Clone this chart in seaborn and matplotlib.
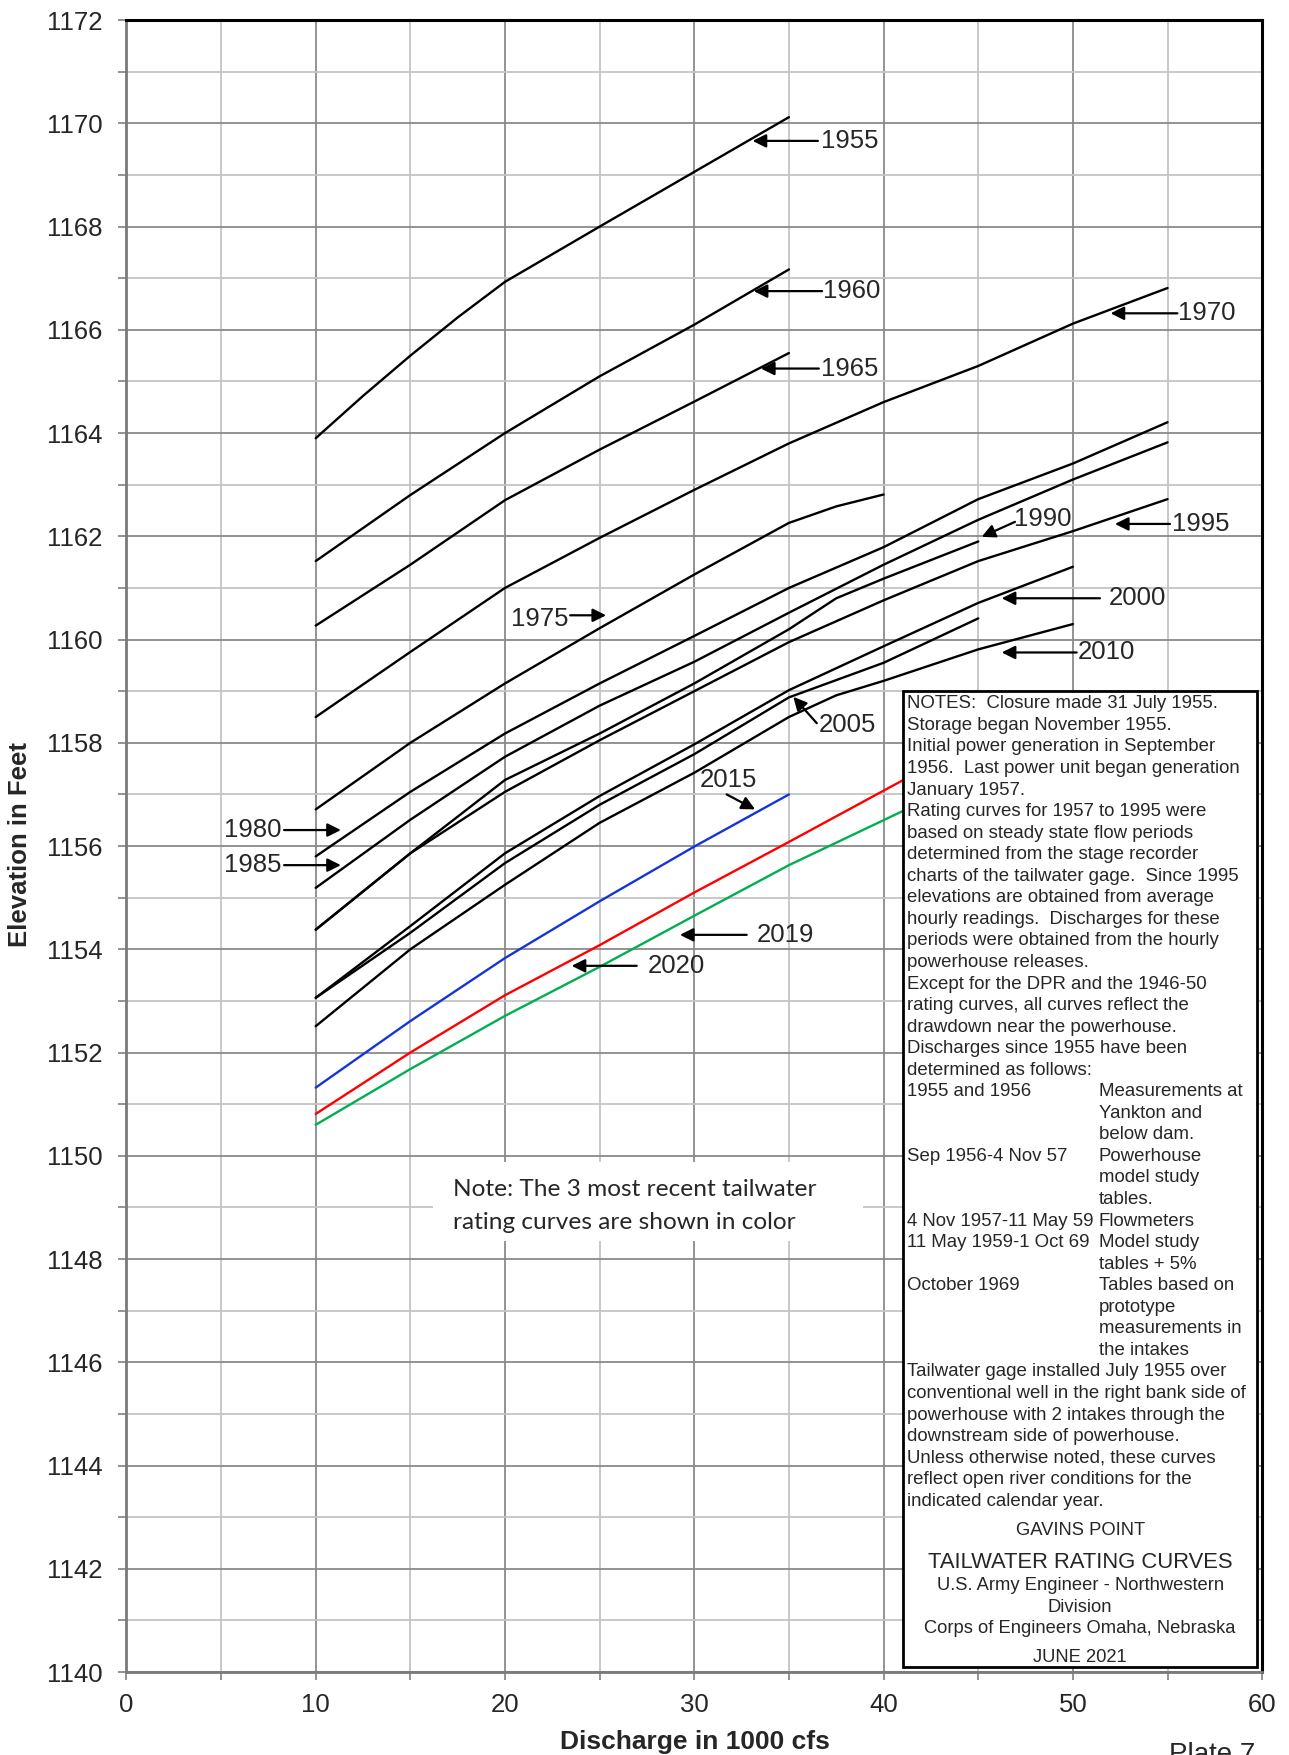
import numpy as np
import pandas as pd
import matplotlib
matplotlib.use("Agg")
import matplotlib.pyplot as plt
import seaborn as sns
from matplotlib.patches import Rectangle

# Tailwater rating curves: discharge (1000 cfs) vs. elevation (ft) per year
x_1955 = [10, 12.5, 15, 17.5, 20, 25, 30, 35]
y_1955 = [1163.9, 1164.72, 1165.5, 1166.24, 1166.93, 1168.0, 1169.06, 1170.12]

x_1960 = [10, 15, 20, 25, 30, 35]
y_1960 = [1161.52, 1162.8, 1164.0, 1165.1, 1166.1, 1167.17]

x_1965 = [10, 15, 20, 25, 30, 35]
y_1965 = [1160.27, 1161.45, 1162.7, 1163.68, 1164.61, 1165.55]

x_1970 = [10, 15, 20, 25, 30, 35, 40, 45, 50, 55]
y_1970 = [1158.5, 1159.76, 1161.0, 1161.97, 1162.9, 1163.8, 1164.6, 1165.3, 1166.12, 1166.81]

x_1975 = [10, 15, 20, 25, 30, 35, 37.5, 40]
y_1975 = [1156.71, 1158.0, 1159.15, 1160.22, 1161.26, 1162.26, 1162.58, 1162.81]

x_1980 = [10, 15, 20, 25, 30, 35, 40, 45, 50, 55]
y_1980 = [1155.8, 1157.05, 1158.18, 1159.15, 1160.07, 1161.0, 1161.79, 1162.72, 1163.41, 1164.21]

x_1985 = [10, 15, 20, 25, 30, 35, 40, 45, 50, 55]
y_1985 = [1155.19, 1156.51, 1157.73, 1158.72, 1159.57, 1160.52, 1161.45, 1162.32, 1163.1, 1163.82]

x_1990 = [10, 15, 20, 25, 30, 35, 37.5, 40, 45]
y_1990 = [1154.38, 1155.86, 1157.28, 1158.18, 1159.15, 1160.2, 1160.8, 1161.18, 1161.9]

x_1995 = [10, 15, 20, 25, 30, 35, 40, 45, 50, 55]
y_1995 = [1154.38, 1155.86, 1157.05, 1158.05, 1159.0, 1159.95, 1160.76, 1161.52, 1162.1, 1162.72]

x_2000 = [10, 15, 20, 25, 30, 35, 40, 45, 50]
y_2000 = [1153.06, 1154.45, 1155.86, 1156.97, 1157.97, 1159.02, 1159.87, 1160.71, 1161.41]

x_2005 = [10, 15, 20, 25, 30, 35, 40, 45]
y_2005 = [1153.06, 1154.32, 1155.67, 1156.8, 1157.78, 1158.88, 1159.55, 1160.41]

x_2010 = [10, 15, 20, 25, 30, 35, 37.5, 40, 45, 50]
y_2010 = [1152.51, 1154.0, 1155.25, 1156.45, 1157.42, 1158.5, 1158.92, 1159.2, 1159.81, 1160.3]

x_2015 = [10, 15, 20, 25, 30, 35]
y_2015 = [1151.32, 1152.61, 1153.83, 1154.93, 1155.99, 1157.0]

x_2019 = [10, 15, 20, 25, 30, 35, 42]
y_2019 = [1150.6, 1151.68, 1152.71, 1153.66, 1154.65, 1155.63, 1156.85]

x_2020 = [10, 15, 20, 25, 30, 35, 42]
y_2020 = [1150.81, 1152.0, 1153.11, 1154.08, 1155.1, 1156.08, 1157.47]

years = ["1955", "1960", "1965", "1970", "1975", "1980", "1985", "1990",
         "1995", "2000", "2005", "2010", "2015", "2019", "2020"]
series = {
    "1955": (x_1955, y_1955), "1960": (x_1960, y_1960), "1965": (x_1965, y_1965),
    "1970": (x_1970, y_1970), "1975": (x_1975, y_1975), "1980": (x_1980, y_1980),
    "1985": (x_1985, y_1985), "1990": (x_1990, y_1990), "1995": (x_1995, y_1995),
    "2000": (x_2000, y_2000), "2005": (x_2005, y_2005), "2010": (x_2010, y_2010),
    "2015": (x_2015, y_2015), "2019": (x_2019, y_2019), "2020": (x_2020, y_2020),
}

x_ticks = [0, 10, 20, 30, 40, 50, 60]
y_ticks = list(range(1140, 1173, 2))

rows = []
for yr in years:
    xs, ys = series[yr]
    for xv, yv in zip(xs, ys):
        rows.append({"year": yr, "discharge": xv, "elevation": yv})
df = pd.DataFrame(rows)

palette = {yr: "black" for yr in years}
palette["2015"] = "#1535d8"
palette["2019"] = "#00b050"
palette["2020"] = "#ff0000"

sns.set_style("white")
plt.rcParams["font.family"] = ["Liberation Sans", "DejaVu Sans"]

fig = plt.figure(figsize=(12.89, 17.55), dpi=100)
ax = fig.add_axes([126.4 / 1289, 1 - 1672 / 1755, (1262.2 - 126.4) / 1289, (1672 - 20.1) / 1755])

sns.lineplot(data=df, x="discharge", y="elevation", hue="year", palette=palette,
             estimator=None, sort=False, legend=False, linewidth=1.7, ax=ax, zorder=2)

ax.set_xlim(0, 60)
ax.set_ylim(1140, 1172)
ax.set_xticks(x_ticks)
ax.set_yticks(y_ticks)
ax.set_xticks(np.arange(5, 60, 10), minor=True)
ax.set_yticks(np.arange(1141, 1172, 2), minor=True)
ax.set_axisbelow(True)
ax.grid(which="major", color="#8a8a8a", linewidth=1.3)
ax.grid(which="minor", color="#c4c4c4", linewidth=1.3)
ax.tick_params(which="both", direction="out", length=6, width=1.3, color="#8a8a8a",
               left=True, bottom=True)
ax.tick_params(axis="y", labelsize=18.5, pad=11)
ax.tick_params(axis="x", labelsize=18.5, pad=9)
ax.set_xlabel("")
ax.set_ylabel("")
for side in ("left", "bottom"):
    ax.spines[side].set_color("#7a7a7a")
    ax.spines[side].set_linewidth(2)
for side in ("top", "right"):
    ax.spines[side].set_color("black")
    ax.spines[side].set_linewidth(2.2)

fig.text(695 / 1289, 1 - 1742 / 1755, "Discharge in 1000 cfs", ha="center", va="center",
         fontsize=19, fontweight="bold")
fig.text(20 / 1289, 1 - 845 / 1755, "Elevation in Feet", ha="center", va="center",
         rotation=90, fontsize=18.5, fontweight="bold")
fig.text(1169 / 1289, 1 - 1742 / 1755, "Plate 7", ha="left", va="top", fontsize=20)

# year labels with arrows pointing at their curves
arrow_kw = dict(arrowstyle="-|>", mutation_scale=20, lw=1.6, color="black",
                shrinkA=0, shrinkB=0)
labels = [
    ("1955", (33.08, 1169.66), (36.53, 1169.66), (36.7, 1169.66), "left"),
    ("1960", (33.14, 1166.75), (36.75, 1166.75), (36.8, 1166.75), "left"),
    ("1965", (33.52, 1165.25), (36.58, 1165.25), (36.7, 1165.25), "left"),
    ("1970", (51.99, 1166.32), (55.52, 1166.32), (55.55, 1166.32), "left"),
    ("1975", (25.34, 1160.47), (23.44, 1160.47), (23.35, 1160.40), "right"),
    ("1980", (11.33, 1156.31), (8.33, 1156.31), (8.2, 1156.31), "right"),
    ("1985", (11.33, 1155.63), (8.33, 1155.63), (8.2, 1155.63), "right"),
    ("1990", (45.18, 1161.99), (46.94, 1162.28), (46.9, 1162.34), "left"),
    ("1995", (52.22, 1162.24), (55.13, 1162.24), (55.25, 1162.24), "left"),
    ("2000", (46.24, 1160.80), (51.43, 1160.80), (51.9, 1160.80), "left"),
    ("2005", (35.23, 1158.89), (36.47, 1158.38), (36.6, 1158.34), "left"),
    ("2010", (46.24, 1159.75), (50.2, 1159.75), (50.25, 1159.75), "left"),
    ("2015", (33.21, 1156.71), (31.71, 1157.0), (30.3, 1157.27), "left"),
    ("2019", (29.24, 1154.28), (32.77, 1154.28), (33.3, 1154.28), "left"),
    ("2020", (23.52, 1153.68), (26.96, 1153.68), (27.55, 1153.68), "left"),
]
for text, tip, tail, pos, ha in labels:
    ax.annotate("", xy=tip, xytext=tail, arrowprops=arrow_kw, zorder=3)
    ax.text(pos[0], pos[1], text, ha=ha, va="center", fontsize=18.5, zorder=3)

# colour note on a white patch
ax.add_patch(Rectangle((16.2, 1148.35), 22.7, 1.52, facecolor="white", edgecolor="none", zorder=1))
ax.text(17.24, 1149.35, "Note: The 3 most recent tailwater", ha="left", va="center",
        fontsize=17.6, family=["Lato", "DejaVu Sans"], zorder=3)
ax.text(17.24, 1148.70, "rating curves are shown in color", ha="left", va="center",
        fontsize=17.6, family=["Lato", "DejaVu Sans"], zorder=3)

# notes box
ax.add_patch(Rectangle((41.03, 1140.1), 59.7 - 41.03, 1159.01 - 1140.1, facecolor="white",
                       edgecolor="black", linewidth=2, zorder=4))
notes_left = [
    "NOTES:  Closure made 31 July 1955.",
    "Storage began November 1955.",
    "Initial power generation in September",
    "1956.  Last power unit began generation",
    "January 1957.",
    "Rating curves for 1957 to 1995 were",
    "based on steady state flow periods",
    "determined from the stage recorder",
    "charts of the tailwater gage.  Since 1995",
    "elevations are obtained from average",
    "hourly readings.  Discharges for these",
    "periods were obtained from the hourly",
    "powerhouse releases.",
    "Except for the DPR and the 1946-50",
    "rating curves, all curves reflect the",
    "drawdown near the powerhouse.",
    "Discharges since 1955 have been",
    "determined as follows:",
    "1955 and 1956", "", "",
    "Sep 1956-4 Nov 57", "", "",
    "4 Nov 1957-11 May 59",
    "11 May 1959-1 Oct 69", "",
    "October 1969", "", "", "",
    "Tailwater gage installed July 1955 over",
    "conventional well in the right bank side of",
    "powerhouse with 2 intakes through the",
    "downstream side of powerhouse.",
    "Unless otherwise noted, these curves",
    "reflect open river conditions for the",
    "indicated calendar year.",
]
notes_right = [""] * 18 + [
    "Measurements at", "Yankton and", "below dam.",
    "Powerhouse", "model study", "tables.",
    "Flowmeters",
    "Model study", "tables + 5%",
    "Tables based on", "prototype", "measurements in", "the intakes",
] + [""] * 7
line_step = 0.4175
y0 = 1158.755
for i, (lt, rt) in enumerate(zip(notes_left, notes_right)):
    yy = y0 - i * line_step
    if lt:
        ax.text(41.26, yy, lt, ha="left", va="center", fontsize=13.4, zorder=5)
    if rt:
        ax.text(51.37, yy, rt, ha="left", va="center", fontsize=13.4, zorder=5)

footer = [
    ("GAVINS POINT", 1142.75, 13.2),
    ("TAILWATER RATING CURVES", 1142.12, 15.8),
    ("U.S. Army Engineer - Northwestern", 1141.67, 13.2),
    ("Division", 1141.25, 13.2),
    ("Corps of Engineers Omaha, Nebraska", 1140.85, 13.2),
    ("JUNE 2021", 1140.29, 13.2),
]
for txt, yy, fs in footer:
    ax.text(50.38, yy, txt, ha="center", va="center", fontsize=fs, zorder=5)

fig.savefig("out.png", dpi=100)
